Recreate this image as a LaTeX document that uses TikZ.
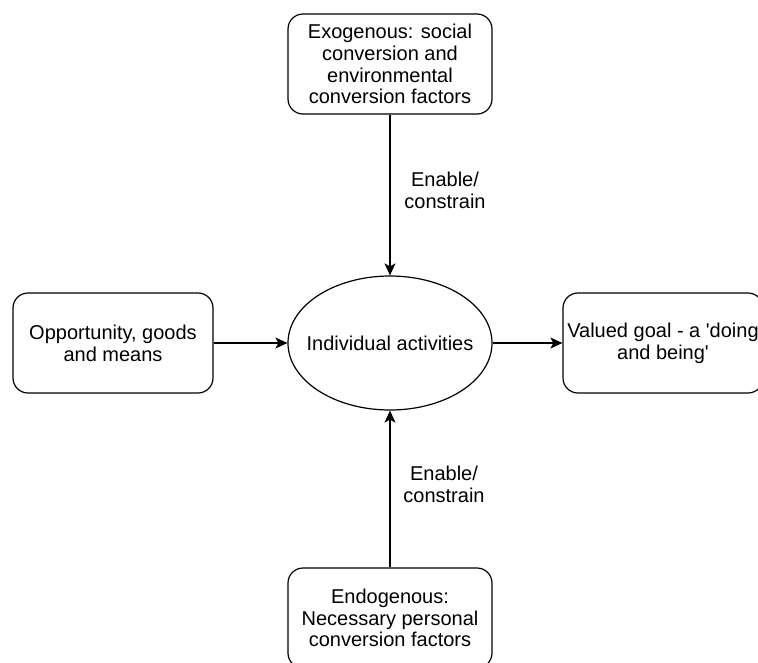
\documentclass[tikz,border=0pt]{standalone}
\usepackage{fontspec}
\setmainfont{Liberation Sans}[Ligatures=TeXOff]
\usetikzlibrary{arrows.meta, positioning, shapes.geometric}
\tikzset{
  factorbox/.style={rectangle, rounded corners=15pt, draw=black, thick,
                 line width=1.2pt, inner sep=0pt, minimum width=204pt,
                 minimum height=100pt, align=center,
                 font=\fontsize{20}{21.7}\selectfont},
  sidebox/.style={factorbox, minimum width=200pt},
  activity/.style={ellipse, draw=black, line width=1.2pt, inner sep=0pt,
                 minimum width=204pt, minimum height=134pt,
                 font=\fontsize{20}{21.7}\selectfont},
  flow/.style={line width=1.2pt, -{Stealth[length=12pt, width=11pt, inset=3pt]}},
  flowlabel/.style={align=center, font=\fontsize{20}{21.7}\selectfont},
}
\begin{document}
\begin{tikzpicture}[x=1pt, y=-1pt]
    \clip (0,0) rectangle (758,662);
    % All nodes
    \node[activity]  (act)  at (390,343) {\makebox[0pt]{Individual activities}};
    \node[factorbox] (exo)  at (390,64)
      {Exogenous: social\\conversion and\\environmental\\conversion factors};
    \node[factorbox] (endo) at (390,618)
      {Endogenous:\\Necessary personal\\conversion factors};
    \node[sidebox]   (opp)  at (113,343) {Opportunity, goods\\and means};
    \node[sidebox]   (goal) at (663,343) {Valued goal - a 'doing\\and being'};
    % Connectors
    \draw[flow] (exo) -- (act);
    \draw[flow] (endo) -- (act);
    \draw[flow] (opp) -- (act);
    \draw[flow] (act) -- (goal);
    % Labels
    \node[flowlabel] (lbltop) at (445,190) {Enable/\\constrain};
    \node[flowlabel] (lblbot) at (444,484) {Enable/\\constrain};
  \end{tikzpicture}
\end{document}
